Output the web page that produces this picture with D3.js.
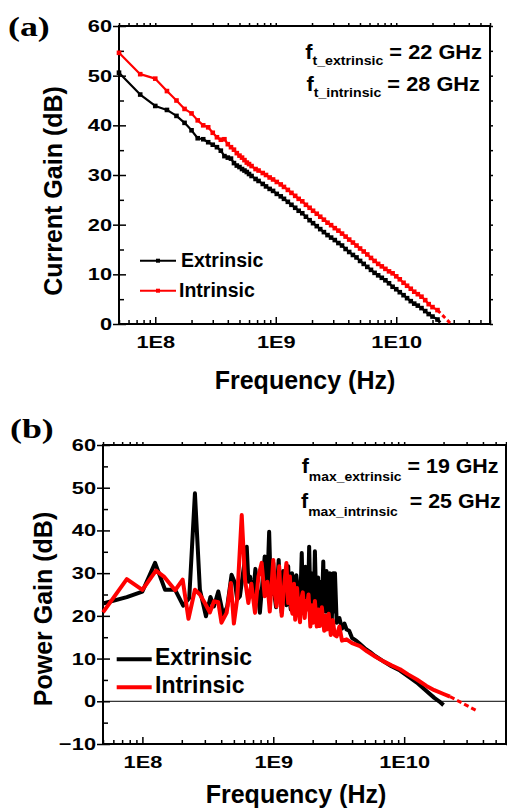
<!DOCTYPE html>
<html>
<head>
<meta charset="utf-8">
<script src="https://cdn.jsdelivr.net/npm/d3@7"></script>
<style>
  body { margin: 0; background: #fff; }
  text { font-family: "Liberation Sans", Arial, sans-serif; font-weight: bold; fill: #000; white-space: pre; }
</style>
</head>
<body>
<div id="chart"></div>
<script>
// ---- panel (a): current gain ----
const freqA = [5.0e7, 7.5e7, 1.0e8, 1.25e8, 1.5e8, 1.75e8, 2.0e8, 2.25e8, 2.5e8, 2.75e8, 3.0e8, 3.25e8,
  3.5e8, 3.75e8, 4.0e8, 4.25e8, 4.5e8, 4.75e8, 5.0e8, 5.25e8, 5.5e8, 5.75e8, 6.0e8,
  6.3e8, 6.8e8, 7.2e8, 7.8e8, 8.3e8, 8.9e8, 9.5e8, 1.02e9, 1.1e9, 1.17e9,
  1.26e9, 1.35e9, 1.45e9, 1.55e9, 1.66e9, 1.78e9, 1.91e9, 2.04e9, 2.19e9, 2.34e9,
  2.51e9, 2.69e9, 2.88e9, 3.09e9, 3.31e9, 3.55e9, 3.8e9, 4.07e9, 4.37e9, 4.68e9,
  5.01e9, 5.37e9, 5.75e9, 6.17e9, 6.61e9, 7.08e9, 7.59e9, 8.13e9, 8.71e9, 9.33e9,
  1.0e10, 1.07e10, 1.15e10, 1.23e10, 1.32e10, 1.41e10, 1.51e10, 1.62e10, 1.74e10, 1.86e10,
  2.0e10, 2.2e10];
const extrinsicA = [50.6, 46.2, 43.9, 43.1, 41.9, 40.5, 39.0, 37.4, 37.2, 36.6, 36.1, 35.6,
  34.9, 33.8, 33.5, 33.3, 32.4, 31.9, 31.6, 31.2, 30.9, 30.6, 30.2,
  29.8, 29.2, 28.8, 28.2, 27.7, 27.2, 26.8, 26.2, 25.7, 25.2,
  24.6, 24.0, 23.4, 22.8, 22.3, 21.6, 20.9, 20.3, 19.7, 19.1,
  18.5, 17.9, 17.4, 16.9, 16.3, 15.8, 15.1, 14.5, 13.9, 13.4,
  12.7, 12.1, 11.5, 10.9, 10.3, 9.8, 9.3, 8.8, 8.2, 7.5,
  7.0, 6.4, 5.8, 5.2, 4.6, 4.1, 3.7, 3.2, 2.6, 2.0,
  1.5, 0.9];
const intrinsicA = [54.6, 50.3, 49.4, 46.9, 45.0, 43.3, 42.4, 41.0, 40.0, 39.6, 38.5, 37.6,
  37.1, 37.2, 36.2, 35.6, 35.1, 34.4, 33.9, 33.5, 33.0, 32.5, 32.2,
  31.8, 31.2, 30.9, 30.4, 30.0, 29.5, 29.1, 28.6, 28.1, 27.6,
  27.0, 26.4, 25.8, 25.2, 24.7, 24.0, 23.4, 22.8, 22.2, 21.6,
  21.0, 20.4, 19.9, 19.3, 18.8, 18.2, 17.6, 17.0, 16.4, 15.8,
  15.2, 14.6, 14.0, 13.3, 12.7, 12.1, 11.6, 11.1, 10.6, 10.2,
  9.6, 9.0, 8.3, 7.7, 7.1, 6.5, 6.0, 5.5, 4.8, 4.0,
  3.4, 2.8];
// extrapolation to 0 dB (dashed)
const extFitFreqA = [2.2e10, 2.38e10];
const extFitGainA = [0.9, 0];
const intFitFreqA = [2.2e10, 2.9e10];
const intFitGainA = [2.8, -0.2];

// ---- panel (b): power gain ----
const freqBExt = [5.0e7, 7.6e7, 1.0e8, 1.25e8, 1.49e8, 1.78e8, 2.05e8, 2.28e8, 2.52e8, 2.75e8, 3.06e8,
  3.31e8, 3.52e8, 3.8e8, 4.15e8, 4.45e8, 4.8e8, 5.1e8, 5.3e8, 5.56e8, 5.9e8, 6.27e8, 6.45e8, 6.64e8,
  7.0e8, 7.3e8, 7.6e8, 7.9e8, 8.3e8, 8.6e8, 9.0e8, 9.3e8, 9.6e8,
  1.0e9, 1.03e9, 1.05e9, 1.08e9, 1.1e9, 1.13e9, 1.16e9, 1.19e9, 1.22e9, 1.26e9, 1.3e9, 1.33e9,
  1.36e9, 1.39e9, 1.42e9, 1.46e9, 1.5e9, 1.53e9, 1.56e9, 1.6e9, 1.65e9, 1.68e9, 1.72e9, 1.76e9,
  1.8e9, 1.84e9, 1.88e9, 1.92e9, 1.95e9, 2.0e9, 2.04e9, 2.08e9, 2.12e9, 2.15e9, 2.2e9, 2.24e9,
  2.27e9, 2.31e9, 2.34e9, 2.41e9, 2.45e9, 2.5e9, 2.55e9, 2.6e9, 2.65e9, 2.7e9, 2.75e9, 2.8e9,
  2.87e9, 2.92e9, 2.96e9, 3.05e9,
  3.2e9, 3.35e9, 3.5e9, 3.63e9, 3.8e9, 4.0e9, 4.3e9, 4.6e9, 5.0e9, 5.5e9, 6.0e9, 6.9e9,
  8.0e9, 9.3e9, 1.1e10, 1.25e10, 1.48e10, 1.7e10, 1.85e10, 2.0e10];
const gainBExt = [22.9, 24.4, 25.7, 32.4, 26.1, 26.1, 22.4, 24.2, 48.7, 26.1, 19.9,
  24.4, 22.2, 25.7, 20.1, 22.2, 29.6, 27.7, 23.8, 24.6, 30.5, 36.2, 28.0, 29.2,
  24.6, 31.0, 26.0, 20.7, 28.5, 33.9, 27.0, 39.7, 25.0,
  32.4, 24.0, 22.0, 29.0, 33.1, 24.5, 20.7, 30.5, 27.5, 22.5, 31.6, 24.0,
  21.5, 30.0, 28.0, 22.5, 29.5, 26.9, 21.5, 21.0, 34.7, 25.0, 22.5, 31.5,
  28.0, 22.0, 36.2, 24.0, 21.0, 30.0, 23.0, 35.1, 25.0, 20.5, 29.0, 22.0,
  24.6, 28.0, 19.5, 32.7, 22.0, 21.0, 30.5, 27.5, 20.0, 30.0, 22.0, 19.0,
  30.0, 21.0, 30.0, 18.4,
  19.5, 17.0, 18.2, 16.8, 16.5, 14.8, 14.2, 13.4, 12.4, 11.5, 10.6, 9.4,
  8.2, 7.2, 5.6, 4.4, 2.4, 0.8, 0.0, -0.9];
const freqBInt = [5.0e7, 7.6e7, 1.0e8, 1.27e8, 1.46e8, 1.78e8, 2.03e8, 2.25e8, 2.52e8, 2.75e8, 3.0e8,
  3.28e8, 3.52e8, 3.8e8, 4.02e8, 4.4e8, 4.74e8, 5.0e8, 5.3e8, 5.74e8, 6.08e8, 6.45e8, 6.8e8,
  7.25e8, 7.7e8, 8.15e8, 8.6e8, 9.0e8, 9.4e8,
  1.0e9, 1.03e9, 1.06e9, 1.09e9, 1.11e9, 1.14e9, 1.16e9, 1.19e9, 1.21e9, 1.26e9, 1.3e9, 1.34e9,
  1.37e9, 1.4e9, 1.44e9, 1.47e9, 1.52e9, 1.55e9, 1.6e9, 1.64e9, 1.68e9, 1.74e9, 1.77e9, 1.8e9,
  1.86e9, 1.92e9, 1.97e9, 2.02e9, 2.08e9, 2.15e9, 2.21e9, 2.27e9, 2.35e9, 2.45e9, 2.5e9, 2.56e9,
  2.65e9, 2.75e9, 2.85e9, 2.95e9, 3.05e9,
  3.2e9, 3.35e9, 3.63e9, 4.0e9, 4.6e9, 5.2e9, 6.0e9, 6.9e9, 8.0e9, 9.3e9, 1.07e10, 1.25e10,
  1.48e10, 1.7e10, 2.0e10, 2.24e10];
const gainBInt = [20.8, 28.6, 26.1, 30.6, 29.2, 26.0, 28.5, 19.3, 26.1, 25.0, 23.0,
  20.8, 23.4, 23.2, 18.4, 20.7, 27.7, 18.2, 24.0, 43.6, 28.5, 23.0, 27.5,
  20.7, 29.2, 32.4, 24.6, 28.0, 21.0,
  33.1, 25.0, 22.2, 28.0, 31.6, 23.5, 20.0, 24.0, 27.0, 32.4, 23.0, 29.2,
  22.0, 20.5, 27.5, 19.1, 26.5, 22.2, 18.5, 24.0, 25.5, 19.5, 23.5, 21.5,
  25.0, 17.5, 22.5, 18.4, 23.5, 17.5, 21.5, 17.6, 22.0, 16.5, 20.0, 16.8,
  20.5, 15.5, 19.0, 15.5, 15.2,
  17.5, 14.2, 14.5, 13.6, 12.9, 11.7, 10.5, 9.4, 8.4, 7.5, 6.3, 5.1,
  3.6, 2.6, 1.7, 1.1];
const intFitFreqB = [2.24e10, 3.68e10];
const intFitGainB = [1.1, -2.4];

const xDomain = [5e7, 6e10];
const xTicks = [1e8, 1e9, 1e10];
const xTickLabels = ["1E8", "1E9", "1E10"];
const yTicksA = [0, 10, 20, 30, 40, 50, 60];
const yTicksB = [-10, 0, 10, 20, 30, 40, 50, 60];
const seriesNames = ["Extrinsic", "Intrinsic"];

const RED = "#ff0000";
const TICK_SX = 1.28;

const svg = d3.select("#chart").append("svg")
  .attr("width", 507)
  .attr("height", 809);

const zip = (xs, ys) => xs.map((v, i) => [v, ys[i]]);

// log minor positions inside the domain
const xMinor = [];
for (let e = 7; e <= 10; e++) {
  for (let m = 2; m <= 9; m++) {
    const v = m * Math.pow(10, e);
    if (v >= xDomain[0] && v <= xDomain[1]) xMinor.push(v);
  }
}

function drawFrame(p, yTicks) {
  const x = d3.scaleLog().domain(xDomain).range([p.left, p.right]);
  const y = d3.scaleLinear().domain([yTicks[0], yTicks[yTicks.length - 1]]).range([p.bottom, p.top]);
  const yMinor = d3.range(yTicks[0] + 5, yTicks[yTicks.length - 1], 10);
  const g = svg.append("g");

  // bottom: majors + minors pointing in
  const bx = g.append("g").attr("transform", `translate(0,${p.bottom})`)
    .call(d3.axisBottom(x).tickValues(xTicks).tickFormat((d, i) => xTickLabels[i])
      .tickSizeInner(-7).tickSizeOuter(0).tickPadding(12));
  bx.selectAll("text").style("font-size", "17px").attr("transform", `scale(${TICK_SX},1)`);
  g.append("g").attr("transform", `translate(0,${p.bottom})`)
    .call(d3.axisBottom(x).tickValues(xMinor).tickFormat("").tickSizeInner(-4).tickSizeOuter(0));

  // left: majors cross the axis, minors point in
  const ly = g.append("g").attr("transform", `translate(${p.left},0)`)
    .call(d3.axisLeft(y).tickValues(yTicks).tickSizeInner(6).tickSizeOuter(0));
  ly.selectAll("text").style("font-size", "17px").attr("x", -7 / TICK_SX)
    .attr("transform", `scale(${TICK_SX},1)`);
  g.append("g").attr("transform", `translate(${p.left},0)`)
    .call(d3.axisLeft(y).tickValues(yTicks).tickFormat("").tickSizeInner(-7).tickSizeOuter(0));
  g.append("g").attr("transform", `translate(${p.left},0)`)
    .call(d3.axisLeft(y).tickValues(yMinor).tickFormat("").tickSizeInner(-5).tickSizeOuter(0));

  // top and right: small outward ticks
  g.append("g").attr("transform", `translate(0,${p.top})`)
    .call(d3.axisTop(x).tickValues(xTicks.concat(xMinor)).tickFormat("").tickSizeInner(3).tickSizeOuter(0));
  g.append("g").attr("transform", `translate(${p.right},0)`)
    .call(d3.axisRight(y).tickValues(yTicks.concat(yMinor)).tickFormat("").tickSizeInner(3).tickSizeOuter(0));

  g.selectAll(".domain").remove();
  g.selectAll(".tick line").attr("stroke", "#000").attr("stroke-width", 1.5);

  g.append("rect")
    .attr("x", p.left).attr("y", p.top)
    .attr("width", p.right - p.left).attr("height", p.bottom - p.top)
    .attr("fill", "none").attr("stroke", "#000").attr("stroke-width", 2);

  return { x, y, g };
}

function fLabel(xEnd, yBase, sub, rest, shift, sx) {
  const t = svg.append("text")
    .attr("transform", `translate(${xEnd},${yBase}) scale(${sx},1)`)
    .attr("text-anchor", "end")
    .style("font-size", "20px");
  t.append("tspan").text("f");
  t.append("tspan").attr("dy", shift).style("font-size", "13px").text(sub);
  t.append("tspan").attr("dy", -shift).text(rest);
}

function panelLetter(x0, yBase, s) {
  svg.append("text")
    .attr("transform", `translate(${x0},${yBase}) scale(1.28,1)`)
    .style("font-family", "'Liberation Serif', 'Times New Roman', serif")
    .style("font-size", "28px")
    .text(s);
}

// ================= (a) =================
{
  const p = { left: 119, right: 490, top: 26, bottom: 324 };
  const { x, y, g } = drawFrame(p, yTicksA);
  const line = d3.line().x(d => x(d[0])).y(d => y(d[1]));

  const sets = [
    { data: zip(freqA, extrinsicA), fit: zip(extFitFreqA, extFitGainA), color: "#000" },
    { data: zip(freqA, intrinsicA), fit: zip(intFitFreqA, intFitGainA), color: RED }
  ];
  sets.forEach(s => {
    g.append("path").datum(s.fit).attr("d", line)
      .attr("fill", "none").attr("stroke", s.color).attr("stroke-width", 3)
      .attr("stroke-dasharray", "4,3");
    g.append("path").datum(s.data).attr("d", line)
      .attr("fill", "none").attr("stroke", s.color).attr("stroke-width", 2.2)
      .attr("stroke-linejoin", "round");
    g.selectAll(null).data(s.data).join("rect")
      .attr("x", d => x(d[0]) - 2.3).attr("y", d => y(d[1]) - 2.3)
      .attr("width", 4.6).attr("height", 4.6).attr("fill", s.color);
  });

  // legend
  [[260.7, 267, "#000"], [290.7, 296.7, RED]].forEach((r, i) => {
    svg.append("line").attr("x1", 140).attr("x2", 176).attr("y1", r[0]).attr("y2", r[0])
      .attr("stroke", r[2]).attr("stroke-width", 2);
    svg.append("rect").attr("x", 156).attr("y", r[0] - 2).attr("width", 4).attr("height", 4).attr("fill", r[2]);
    svg.append("text").attr("x", i === 0 ? 181 : 179).attr("y", r[1])
      .style("font-size", "19.5px").text(seriesNames[i]);
  });

  fLabel(482, 59, "t_extrinsic", " = 22 GHz", 6, 1.09);
  fLabel(480, 90.5, "t_intrinsic", " = 28 GHz", 6, 1.09);

  svg.append("text").attr("x", 305).attr("y", 388.5).attr("text-anchor", "middle")
    .style("font-size", "25px").text("Frequency (Hz)");
  svg.append("text").attr("transform", "translate(62,191) rotate(-90)").attr("text-anchor", "middle")
    .style("font-size", "25px").text("Current Gain (dB)");
  panelLetter(8, 36, "(a)");
}

// ================= (b) =================
{
  const p = { left: 103, right: 506, top: 445, bottom: 744 };
  const { x, y, g } = drawFrame(p, yTicksB);
  const line = d3.line().x(d => x(d[0])).y(d => y(d[1]));

  g.append("line").attr("x1", p.left).attr("x2", p.right)
    .attr("y1", y(0)).attr("y2", y(0)).attr("stroke", "#000").attr("stroke-width", 1);

  g.append("path").datum(zip(freqBExt, gainBExt)).attr("d", line)
    .attr("fill", "none").attr("stroke", "#000").attr("stroke-width", 4)
    .attr("stroke-linejoin", "round");
  g.append("path").datum(zip(intFitFreqB, intFitGainB)).attr("d", line)
    .attr("fill", "none").attr("stroke", RED).attr("stroke-width", 3)
    .attr("stroke-dasharray", "5,3");
  g.append("path").datum(zip(freqBInt, gainBInt)).attr("d", line)
    .attr("fill", "none").attr("stroke", RED).attr("stroke-width", 4)
    .attr("stroke-linejoin", "round");

  [[659.3, 665, "#000"], [687.3, 693.3, RED]].forEach((r, i) => {
    svg.append("line").attr("x1", 116.7).attr("x2", 151.7).attr("y1", r[0]).attr("y2", r[0])
      .attr("stroke", r[2]).attr("stroke-width", 4);
    svg.append("text").attr("x", 155).attr("y", r[1])
      .style("font-size", "23px").text(seriesNames[i]);
  });

  fLabel(498.5, 472.7, "max_extrinsic", " = 19 GHz", 8, 1.07);
  fLabel(500.7, 508.3, "max_intrinsic", "  = 25 GHz", 8, 1.07);

  svg.append("text").attr("x", 296).attr("y", 802.7).attr("text-anchor", "middle")
    .style("font-size", "25px").text("Frequency (Hz)");
  svg.append("text").attr("transform", "translate(52,609) rotate(-90)").attr("text-anchor", "middle")
    .style("font-size", "25px").text("Power Gain (dB)");
  panelLetter(10, 438, "(b)");
}
</script>
</body>
</html>
